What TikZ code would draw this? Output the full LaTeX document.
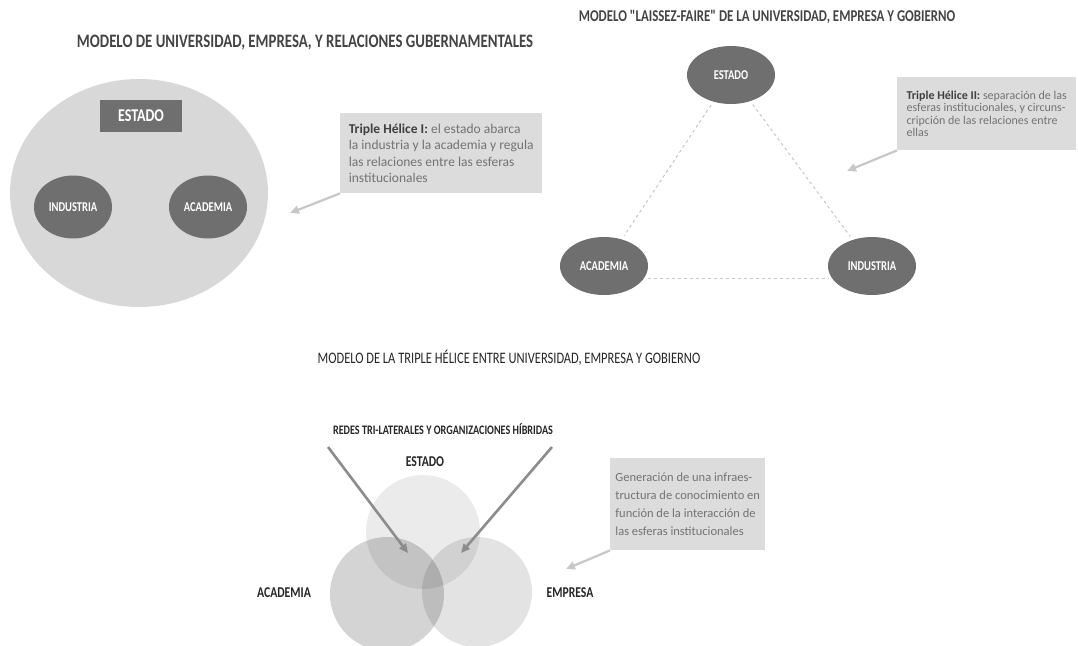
\documentclass[tikz,border=0pt]{standalone}
\usepackage{fontspec}
\setmainfont{Carlito}
\newfontfamily\narrowfont[FakeStretch=0.78]{Carlito}
\usetikzlibrary{positioning,arrows.meta,shapes.geometric}
\definecolor{esferagris}{HTML}{6F6F6F}
\definecolor{marcogris}{HTML}{D8D8D8}
\definecolor{notagris}{HTML}{DCDCDC}
\definecolor{textogris}{HTML}{444444}

\begin{document}
\begin{tikzpicture}[x=1pt, y=-1pt,
    titulo/.style={inner sep=0pt, text=textogris, font=\narrowfont\bfseries\fontsize{19}{19}\selectfont},
    esfera/.style={ellipse, fill=esferagris, text=white, inner sep=0pt,
                   minimum width=88pt, minimum height=58pt,
                   font=\narrowfont\bfseries\fontsize{13.5}{13.5}\selectfont},
    nota/.style={fill=notagris, text=black!55, anchor=north west, align=left,
                 inner xsep=5pt, inner ysep=6pt},
    flecha/.style={-{Triangle[length=9pt,width=8pt]}, draw=black!22, line width=2.2pt},
    enlace/.style={draw=black!22, dash pattern=on 3pt off 3pt, line width=1pt,
                   shorten <=4pt, shorten >=4pt},
    helice/.style={circle, minimum size=114pt, inner sep=0pt},
    rotulo/.style={inner sep=0pt, text=black!85, font=\narrowfont\bfseries\fontsize{15}{15}\selectfont},
]
\useasboundingbox (0,0) rectangle (1078,645);
\clip (0,0) rectangle (1078,645);

% Triple Helice I
\node[titulo] (titulo1) at (305,43) {MODELO DE UNIVERSIDAD, EMPRESA, Y RELACIONES GUBERNAMENTALES};
\node[ellipse, fill=marcogris, minimum width=258pt, minimum height=228pt] (gobierno) at (139,193) {};
\node[fill=esferagris, text=white, minimum width=82pt, minimum height=32pt,
      font=\narrowfont\bfseries\fontsize{18}{18}\selectfont] (estado1) at (141,116) {ESTADO};
\node[esfera, minimum width=78pt, minimum height=63pt] (industria1) at (73,207) {INDUSTRIA};
\node[esfera, minimum width=78pt, minimum height=63pt] (academia1) at (208,207) {ACADEMIA};
\node[nota, font=\fontsize{13.5}{16.5}\selectfont, minimum width=202pt, minimum height=80pt] (nota1) at (340,113)
    {\textbf{\color{black!75}Triple Hélice I:} el estado abarca\\la industria y la academia y regula\\las relaciones entre las esferas\\institucionales};
\coordinate (punta1) at (290,213);
\draw[flecha] (nota1.south west) -- (punta1);

% Triple Helice II
\node[titulo, font=\narrowfont\bfseries\fontsize{16.5}{16.5}\selectfont] (titulo2) at (767,17)
    {MODELO "LAISSEZ-FAIRE" DE LA UNIVERSIDAD, EMPRESA Y GOBIERNO};
\node[esfera] (estado2) at (731,75) {ESTADO};
\node[esfera] (academia2) at (604,266) {ACADEMIA};
\node[esfera] (industria2) at (872,266) {INDUSTRIA};
\draw[enlace] (estado2) -- (academia2);
\draw[enlace] (estado2) -- (industria2);
\draw[enlace] (academia2.-18) -- (industria2.198);
\node[nota, font=\fontsize{12}{12.5}\selectfont, inner ysep=5pt, minimum width=179pt, minimum height=73pt] (nota2) at (897,77)
    {\textbf{\color{black!75}Triple Hélice II:} separación de las\\esferas institucionales, y circuns-\\cripción de las relaciones entre\\ellas};
\coordinate (punta2) at (847,171);
\draw[flecha] (nota2.south west) -- (punta2);

% Triple Helice III
\node[titulo, font=\narrowfont\fontsize{16}{16}\selectfont, text=black!85] (titulo3) at (509,358)
    {MODELO DE LA TRIPLE HÉLICE ENTRE UNIVERSIDAD, EMPRESA Y GOBIERNO};
\node[titulo, font=\narrowfont\bfseries\fontsize{13}{13}\selectfont, text=black!85] (redes) at (443,429)
    {REDES TRI-LATERALES Y ORGANIZACIONES HÍBRIDAS};
\node[helice, fill=black!8] (estado3) at (423,532) {};
\node[helice, fill=black, fill opacity=0.17] (academia3) at (387,594) {};
\node[helice, fill=black, fill opacity=0.11, minimum size=110pt] (empresa3) at (477,592) {};
\node[rotulo] (estadolbl) at (425,462) {ESTADO};
\node[rotulo] (academialbl) at (284,593) {ACADEMIA};
\node[rotulo] (empresalbl) at (570,593) {EMPRESA};
\coordinate (inicio1) at (328,447);
\coordinate (cruce1) at (408,553);
\coordinate (inicio2) at (552,447);
\coordinate (cruce2) at (461,553);
\draw[flecha, draw=black!45, line width=2.6pt] (inicio1) -- (cruce1);
\draw[flecha, draw=black!45, line width=2.6pt] (inicio2) -- (cruce2);
\node[nota, font=\fontsize{12.5}{18}\selectfont, inner ysep=4pt, minimum width=155pt, minimum height=92pt] (nota3) at (610,458)
    {Generación de una infraes-\\tructura de conocimiento en\\función de la interacción de\\las esferas institucionales};
\coordinate (punta3) at (566,569);
\draw[flecha] (nota3.south west) -- (punta3);
\end{tikzpicture}
\end{document}
